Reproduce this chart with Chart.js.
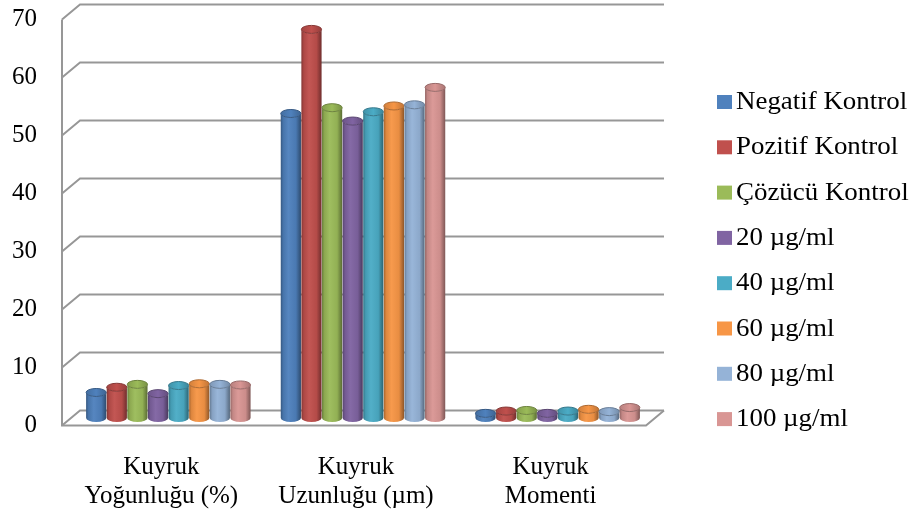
<!DOCTYPE html>
<html>
<head>
<meta charset="utf-8">
<script src="https://cdn.jsdelivr.net/npm/chart.js@4/dist/chart.umd.min.js"></script>
<style>
  html, body { margin: 0; padding: 0; background: #ffffff; }
  #wrap { width: 916px; height: 521px; }
</style>
</head>
<body>
<div id="wrap"><canvas id="c" width="916" height="521"></canvas></div>
<script>
// Comet assay parameters per treatment group
const categories = [
  ['Kuyruk', 'Yoğunluğu (%)'],
  ['Kuyruk', 'Uzunluğu (µm)'],
  ['Kuyruk', 'Momenti']
];
const seriesNames = [
  'Negatif Kontrol', 'Pozitif Kontrol', 'Çözücü Kontrol',
  '20 µg/ml', '40 µg/ml', '60 µg/ml', '80 µg/ml', '100 µg/ml'
];
const negatifKontrol = [4.4, 52.5, 0.8];
const pozitifKontrol = [5.3, 67.0, 1.2];
const cozucuKontrol  = [5.8, 53.5, 1.3];
const doz20  = [4.2, 51.2, 0.8];
const doz40  = [5.6, 52.8, 1.2];
const doz60  = [5.9, 53.8, 1.5];
const doz80  = [5.8, 54.0, 1.1];
const doz100 = [5.7, 57.0, 1.8];
const seriesValues = [negatifKontrol, pozitifKontrol, cozucuKontrol, doz20, doz40, doz60, doz80, doz100];
const yTicks = [0, 10, 20, 30, 40, 50, 60, 70];

const seriesColors = ['#4F81BD', '#C0504D', '#9BBB59', '#8064A2', '#4BACC6', '#F79646', '#95B3D7', '#D99694'];

const FONT = '"Liberation Serif", "Times New Roman", serif';
const DEPTH_X = 9, DEPTH_Y = 7.5;   // half-depth of the 3D box
const GRID = '#979797';

function mix(hex, amt) {
  // amt < 0 darkens toward black, amt > 0 lightens toward white
  const n = parseInt(hex.slice(1), 16);
  let r = (n >> 16) & 255, g = (n >> 8) & 255, b = n & 255;
  const t = amt < 0 ? 0 : 255, p = Math.abs(amt);
  r = Math.round(r + (t - r) * p);
  g = Math.round(g + (t - g) * p);
  b = Math.round(b + (t - b) * p);
  return `rgb(${r},${g},${b})`;
}

// back wall, left wall and floor outline of the 3D box
const wallsPlugin = {
  id: 'walls',
  beforeDatasetsDraw(chart) {
    const { ctx, chartArea: a } = chart;
    const ys = chart.scales.y;
    ctx.save();
    ctx.strokeStyle = GRID;
    ctx.lineWidth = 2;
    ctx.lineCap = 'butt';
    ys.ticks.forEach(t => {
      const y = ys.getPixelForValue(t.value);
      ctx.beginPath();
      ctx.moveTo(a.left - DEPTH_X, y + DEPTH_Y);
      ctx.lineTo(a.left + DEPTH_X, y - DEPTH_Y);
      ctx.lineTo(a.right + DEPTH_X, y - DEPTH_Y);
      ctx.stroke();
    });
    const y0 = ys.getPixelForValue(ys.min);
    const yTop = ys.getPixelForValue(ys.max);
    ctx.beginPath();
    ctx.moveTo(a.left - DEPTH_X, yTop + DEPTH_Y);
    ctx.lineTo(a.left - DEPTH_X, y0 + DEPTH_Y);
    ctx.lineTo(a.right - DEPTH_X, y0 + DEPTH_Y);
    ctx.lineTo(a.right + DEPTH_X, y0 - DEPTH_Y);
    ctx.stroke();
    ctx.restore();
  }
};

// cylinders built on each bar element's geometry
const cylinderPlugin = {
  id: 'cylinders',
  afterDatasetsDraw(chart) {
    const { ctx } = chart;
    chart.data.datasets.forEach((ds, di) => {
      const meta = chart.getDatasetMeta(di);
      const col = seriesColors[di];
      meta.data.forEach(bar => {
        const { x, y, base, width } = bar.getProps(['x', 'y', 'base', 'width'], true);
        const rx = width * 0.49, ry = 4;
        ctx.save();
        const g = ctx.createLinearGradient(x - rx, 0, x + rx, 0);
        g.addColorStop(0, mix(col, -0.32));
        g.addColorStop(0.12, mix(col, -0.1));
        g.addColorStop(0.38, mix(col, 0.04));
        g.addColorStop(0.75, mix(col, -0.06));
        g.addColorStop(1, mix(col, -0.42));
        ctx.beginPath();
        ctx.moveTo(x - rx, y);
        ctx.lineTo(x - rx, base);
        ctx.ellipse(x, base, rx, ry, 0, Math.PI, 0, true);
        ctx.lineTo(x + rx, y);
        ctx.ellipse(x, y, rx, ry, 0, 0, Math.PI, false);
        ctx.closePath();
        ctx.fillStyle = g;
        ctx.fill();
        // top cap
        const tg = ctx.createLinearGradient(x - rx, y, x + rx, y);
        tg.addColorStop(0, mix(col, -0.15));
        tg.addColorStop(0.5, mix(col, 0.0));
        tg.addColorStop(1, mix(col, -0.22));
        ctx.beginPath();
        ctx.ellipse(x, y, rx, ry, 0, 0, Math.PI * 2);
        ctx.fillStyle = tg;
        ctx.fill();
        ctx.lineWidth = 1;
        ctx.strokeStyle = mix(col, -0.3);
        ctx.stroke();
        ctx.restore();
      });
    });
  }
};

// legend column on the right
const legendPlugin = {
  id: 'sideLegend',
  afterDraw(chart) {
    const { ctx } = chart;
    chart.data.datasets.forEach((ds, i) => {
      const cy = 102 + i * 45.3;
      ctx.save();
      ctx.fillStyle = seriesColors[i];
      ctx.fillRect(717, cy - 7, 15, 14);
      ctx.translate(736, cy + 7);
      ctx.scale(1.035, 1);
      ctx.font = `26px ${FONT}`;
      ctx.textBaseline = 'alphabetic';
      ctx.textAlign = 'left';
      ctx.fillStyle = '#000000';
      ctx.fillText(ds.label, 0, 0);
      ctx.restore();
    });
  }
};

const datasets = seriesNames.map((name, i) => ({
  label: name,
  data: seriesValues[i],
  backgroundColor: 'rgba(0,0,0,0)',
  borderWidth: 0,
  categoryPercentage: 0.847,
  barPercentage: 1.0
}));

new Chart(document.getElementById('c'), {
  type: 'bar',
  data: { labels: categories, datasets },
  options: {
    responsive: false,
    animation: false,
    events: [],
    layout: { padding: { top: 12, right: 261, left: 0, bottom: 0 } },
    plugins: { legend: { display: false }, tooltip: { enabled: false } },
    scales: {
      x: {
        grid: { display: false, drawTicks: false },
        border: { display: false },
        ticks: {
          color: '#000000',
          font: { family: FONT, size: 25, lineHeight: 1.16 },
          padding: 35,
          labelOffset: -DEPTH_X + 2,
          maxRotation: 0,
          autoSkip: false
        },
        afterFit(scale) {
          scale.height = 103;
          scale.paddingLeft = 0;
          scale.paddingRight = 0;
        }
      },
      y: {
        min: 0,
        max: 70,
        afterBuildTicks(scale) {
          scale.ticks = yTicks.map(v => ({ value: v }));
        },
        grid: { display: false, drawTicks: false },
        border: { display: false },
        ticks: {
          color: '#000000',
          font: { family: FONT, size: 25 },
          padding: 34,
          labelOffset: DEPTH_Y
        },
        afterFit(scale) {
          scale.width = 71;
          scale.paddingTop = 0;
          scale.paddingBottom = 0;
        }
      }
    }
  },
  plugins: [wallsPlugin, cylinderPlugin, legendPlugin]
});
</script>
</body>
</html>
